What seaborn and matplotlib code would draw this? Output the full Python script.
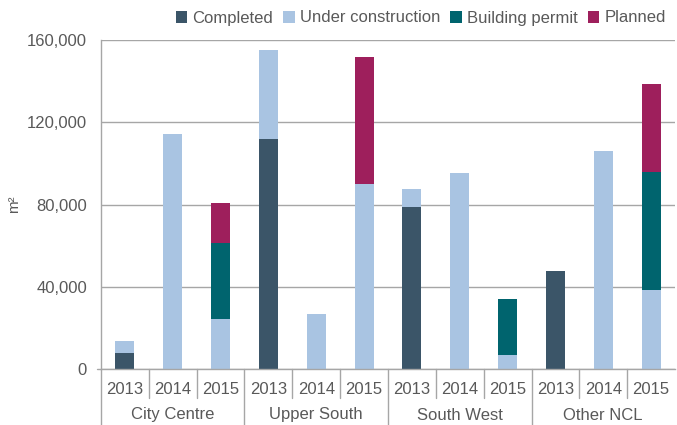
import numpy as np
import pandas as pd
import matplotlib
matplotlib.use("Agg")
import matplotlib.pyplot as plt
import matplotlib.transforms as mtransforms
from matplotlib.patches import Patch
from matplotlib.ticker import FuncFormatter
import seaborn as sns

# ---- data ----
locations = ["City Centre", "Upper South", "South West", "Other NCL"]
years = ["2013", "2014", "2015"]
completed    = [8000, 0, 0,     112000, 0, 0,      78600, 0, 0,      47800, 0, 0]
under_constr = [5600, 114500, 24200, 43000, 26700, 90000, 8900, 95300, 6800, 0, 106000, 38400]
building     = [0, 0, 37000,    0, 0, 0,           0, 0, 27200,      0, 0, 57500]
planned      = [0, 0, 19500,    0, 0, 61700,       0, 0, 0,          0, 0, 42800]
series_names = ["Completed", "Under construction", "Building permit", "Planned"]
colors = ["#3B5568", "#A9C4E2", "#00646E", "#9E1F5C"]
yticks = [0, 40000, 80000, 120000, 160000]

keys = [f"{loc}|{yr}" for loc in locations for yr in years]
df = pd.DataFrame({
    "key": keys,
    "Completed": completed,
    "Under construction": under_constr,
    "Building permit": building,
    "Planned": planned,
})
cum = df[series_names].cumsum(axis=1)
for s in series_names:
    df["cum_" + s] = cum[s]

# ---- figure ----
sns.set_theme(style="white")
plt.rcParams["font.family"] = ["Liberation Sans", "DejaVu Sans"]
txt = "#595959"
grid_c = "#A6A6A6"

fig = plt.figure(figsize=(6.77, 4.25), dpi=100)
ax = fig.add_axes([101 / 677, 1 - 369 / 425, 574 / 677, 329 / 425])

for s, c in reversed(list(zip(series_names, colors))):
    sns.barplot(data=df, x="key", y="cum_" + s, order=keys, color=c,
                saturation=1, width=0.4, errorbar=None, ax=ax, linewidth=0)

ax.set_xlim(-0.5, len(keys) - 0.5)
ax.set_ylim(0, 160000)
ax.set_yticks(yticks)
ax.yaxis.set_major_formatter(FuncFormatter(lambda v, p: f"{int(v):,}"))
ax.yaxis.grid(True, color=grid_c, linewidth=1)
ax.set_axisbelow(True)
ax.set_xticks(range(len(keys)))
ax.set_xticklabels([k.split("|")[1] for k in keys])
ax.tick_params(axis="x", length=0, pad=9, labelsize=12, colors=txt)
ax.tick_params(axis="y", length=0, pad=10, labelsize=12, colors=txt)
ax.set_xlabel("")
ax.set_ylabel("m²", fontsize=11, color=txt)
ax.yaxis.set_label_coords(-0.14, 0.5)

for sp in ["top", "right"]:
    ax.spines[sp].set_visible(False)
for sp in ["left", "bottom"]:
    ax.spines[sp].set_color(grid_c)
    ax.spines[sp].set_linewidth(1)

trans = mtransforms.blended_transform_factory(ax.transData, ax.transAxes)
# separators between categories
for i in range(len(keys)):
    xb = i - 0.5
    y0 = -0.2 if i % 3 == 0 else -29 / 329
    ax.plot([xb, xb], [0, y0], transform=trans, color=grid_c, lw=1, clip_on=False)
ax.plot([-0.58, -0.5], [0, 0], transform=trans, color=grid_c, lw=1, clip_on=False)

# group labels
for gi, loc in enumerate(locations):
    ax.text(gi * 3 + 1, -46 / 329, loc, transform=trans, ha="center", va="center",
            fontsize=12, color=txt, clip_on=False)

handles = [Patch(facecolor=c, edgecolor="none", label=s) for s, c in zip(series_names, colors)]
fig.legend(handles=handles, loc="center right", bbox_to_anchor=(0.993, 1 - 18 / 425),
           ncol=4, frameon=False, fontsize=12, labelcolor=txt,
           handlelength=0.7, handleheight=0.7, handletextpad=0.3, columnspacing=0.6,
           borderaxespad=0)

fig.savefig("out.png", dpi=100)
